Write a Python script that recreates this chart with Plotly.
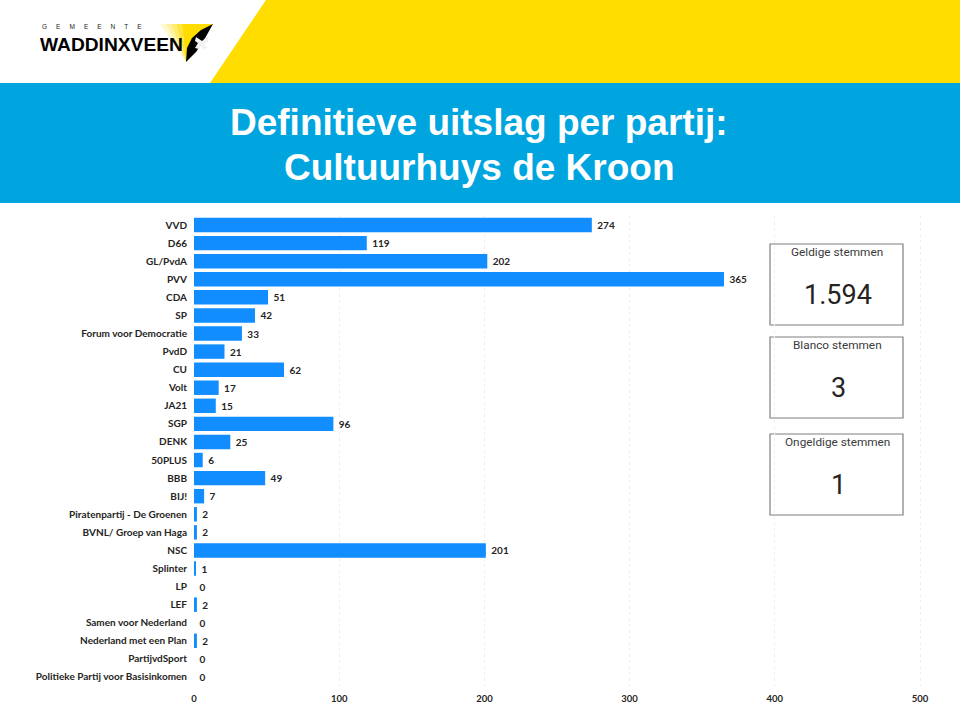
import plotly.graph_objects as go

parties = ["VVD", "D66", "GL/PvdA", "PVV", "CDA", "SP", "Forum voor Democratie", "PvdD", "CU", "Volt",
           "JA21", "SGP", "DENK", "50PLUS", "BBB", "BIJ!", "Piratenpartij - De Groenen",
           "BVNL/ Groep van Haga", "NSC", "Splinter", "LP", "LEF", "Samen voor Nederland",
           "Nederland met een Plan", "PartijvdSport", "Politieke Partij voor Basisinkomen"]
votes = [274, 119, 202, 365, 51, 42, 33, 21, 62, 17, 15, 96, 25, 6, 49, 7, 2, 2, 201, 1, 0, 2, 0, 2, 0, 0]
x_ticks = [0, 100, 200, 300, 400, 500]
card_titles = ["Geldige stemmen", "Blanco stemmen", "Ongeldige stemmen"]
card_values = ["1.594", "3", "1"]
title_lines = ["Definitieve uitslag per partij:", "Cultuurhuys de Kroon"]

W, H = 960, 720
BLUE, YELLOW, BAR = "#00A5E0", "#FFDD00", "#118DFF"
LABEL_FONT = "Lato"


def px(x):
    return x / W


def py(y):
    return 1 - y / H


def poly(points, fill):
    path = "M " + " L ".join(f"{px(x):.5f},{py(y):.5f}" for x, y in points) + " Z"
    return dict(type="path", xref="paper", yref="paper", path=path, fillcolor=fill,
                line=dict(width=0, color=fill), layer="below")


def rect(x0, y0, x1, y1, fill, line=None, width=0):
    return dict(type="rect", xref="paper", yref="paper", x0=px(x0), x1=px(x1), y0=py(y1), y1=py(y0),
                fillcolor=fill, line=dict(color=line or fill, width=width), layer="below")


def label(x, y, text, size, color, family="Roboto", weight=None, xanchor="center"):
    font = dict(family=family, size=size, color=color)
    if weight:
        font["weight"] = weight
    return dict(xref="paper", yref="paper", x=px(x), y=py(y), text=text, showarrow=False,
                xanchor=xanchor, yanchor="middle", font=font)


fig = go.Figure(go.Bar(
    x=votes, y=parties, orientation="h", marker=dict(color=BAR, line=dict(width=0)),
    text=votes, texttemplate="\u00a0%{x}", textposition="outside", cliponaxis=False,
    textfont=dict(family=LABEL_FONT, size=10, color="#252423", weight=700),
))

shapes = [
    rect(0, 0, W, 83, "white"),
    poly([(266, 0), (W, 0), (W, 83), (210, 83)], YELLOW),
    rect(0, 83, W, 203, BLUE),
    # logo
    poly([(160, 24), (166, 24), (186, 62)], "#FFF9D0"),
    poly([(166, 24), (171, 24), (186, 62)], "#FFF3A0"),
    poly([(171, 24), (176, 24), (186, 62)], "#FFEC70"),
    poly([(176, 24), (182, 24), (186, 62)], "#FFE440"),
    poly([(182, 24), (213, 24), (186, 62)], YELLOW),
    poly([(213, 24), (201, 30), (192, 38), (187, 48), (186, 62), (196, 52), (204, 40)], "#000000"),
    poly([(196, 37), (202, 41), (208, 36), (208, 42), (204, 44), (208, 48), (203, 49), (201, 45),
          (199, 49), (195, 48), (198, 43), (195, 41)], "#F2F2F2"),
]
annotations = [
    label(479, 122, title_lines[0], 37, "white", "Liberation Sans", 700),
    label(479, 167, title_lines[1], 37, "white", "Liberation Sans", 700),
    label(40, 27, "\u00a0\u00a0\u00a0\u00a0\u00a0".join("GEMEENTE"), 6.5, "#222222", "Liberation Sans", xanchor="left"),
    label(111.5, 44, "WADDINXVEEN", 19.2, "#000000", "Liberation Sans", 700),
]

card_tops = [244, 337, 434]
for top, name, value in zip(card_tops, card_titles, card_values):
    shapes.append(rect(770, top, 903, top + 81, "white", "#7F7F7F", 1.2))
    annotations.append(label(837, top + 8, name, 11.8, "#3A3A3A"))
    annotations.append(label(838, top + 51, value, 27, "#252423"))

fig.update_layout(
    width=W, height=H, margin=dict(l=0, r=0, t=0, b=0, pad=0), autosize=False,
    paper_bgcolor="white", plot_bgcolor="rgba(0,0,0,0)", showlegend=False, bargap=0.2,
    shapes=shapes, annotations=annotations,
    xaxis=dict(domain=[px(194), px(921.45)], range=[0, 501], tickvals=x_ticks, showgrid=True, automargin=False,
               gridcolor="#EFEFEF", griddash="dot", gridwidth=1, zeroline=False, showline=False,
               ticks="", ticklen=0, anchor="y", ticklabelstandoff=5,
               tickfont=dict(family=LABEL_FONT, size=9.5, color="#252423", weight=700)),
    yaxis=dict(domain=[py(686), py(216)], categoryorder="array", categoryarray=parties, automargin=False,
               autorange="reversed", showgrid=False, zeroline=False, showline=False, ticks="outside",
               ticklen=4, tickcolor="rgba(0,0,0,0)", anchor="x",
               tickfont=dict(family=LABEL_FONT, size=10, color="#252423", weight=700)),
)

fig.write_html("out.html", config=dict(displayModeBar=False), default_width="960px", default_height="720px",
               post_script="document.documentElement.style.overflow='hidden';document.body.style.margin='0';document.body.style.overflow='hidden';")
